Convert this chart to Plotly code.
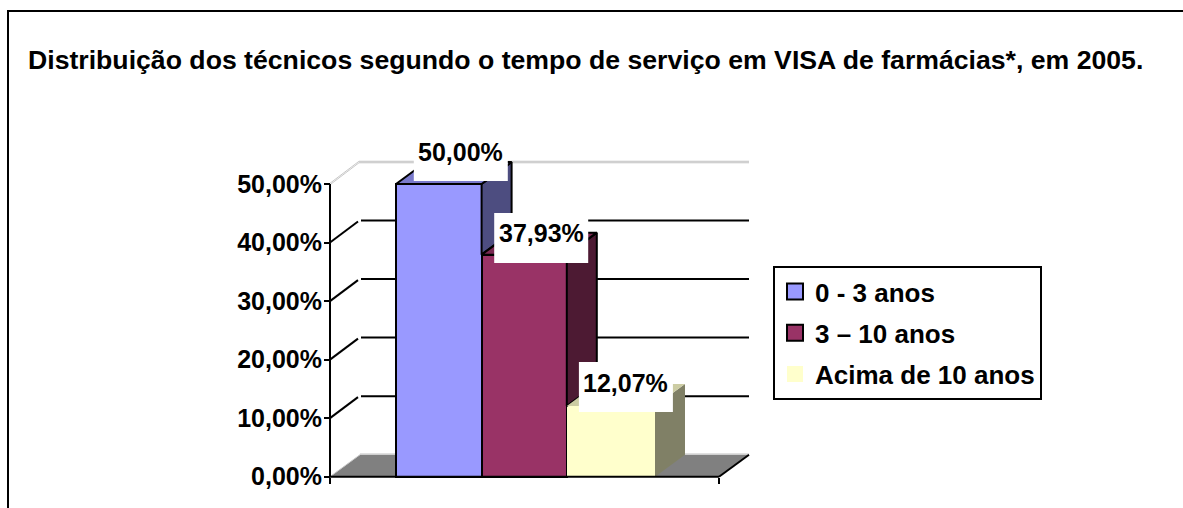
import plotly.graph_objects as go

# ---- data ----
series_names = ["0 - 3 anos", "3 – 10 anos", "Acima de 10 anos"]
series_values = [50.00, 37.93, 12.07]
value_labels = ["50,00%", "37,93%", "12,07%"]
y_ticks = [0, 10, 20, 30, 40, 50]
y_tick_labels = ["0,00%", "10,00%", "20,00%", "30,00%", "40,00%", "50,00%"]
title_text = "<b>Distribuição dos técnicos segundo o tempo de serviço em VISA de farmácias*, em 2005.</b>"

# ---- styles ----
front_colors = ["#9999ff", "#993366", "#ffffcc"]
side_colors = ["#4d4d80", "#4d1a33", "#808066"]
top_colors = ["#7a7acc", "#7a2952", "#cccca3"]
edge_widths = [2, 2, 0]
FONT = "Liberation Sans"

# ---- layout geometry (x axis runs in page units) ----
W, H = 1183, 508
Y0_PX, PX_PER_UNIT = 476.7, 5.854
AX_L, AX_R = 330, 719
bar_edges = [396, 481.6, 566.8, 655]
DX = 30
DY = 22 / PX_PER_UNIT
GRID_START = 361
label_dx = [22, 17, 15]
label_box_dy_px = [28, 16.6, 19]
label_text_dy_px = [32, 21.6, 23]
LABEL_W, LABEL_H = 94, 50


def u(px):
    return px / PX_PER_UNIT


fig = go.Figure()

# front faces
for i, (name, v) in enumerate(zip(series_names, series_values)):
    l, r = bar_edges[i], bar_edges[i + 1]
    fig.add_trace(go.Bar(x=[(l + r) / 2], y=[v], width=[r - l], name=name, showlegend=False,
                         marker=dict(color=front_colors[i],
                                     line=dict(color="black", width=edge_widths[i]))))

# side and top faces, computed from the values
for i, v in enumerate(series_values):
    l, r = bar_edges[i], bar_edges[i + 1]
    nxt = series_values[i + 1] if i + 1 < len(series_values) else 0
    line = dict(color="black", width=edge_widths[i]) if edge_widths[i] else dict(width=0)
    fig.add_trace(go.Scatter(x=[r, r + DX, r + DX, r, r], y=[v, v + DY, nxt + DY, nxt, v],
                             mode="lines", fill="toself", fillcolor=side_colors[i], line=line,
                             hoverinfo="skip", showlegend=False))
    fig.add_trace(go.Scatter(x=[l, l + DX, r + DX, r, l], y=[v, v + DY, v + DY, v, v],
                             mode="lines", fill="toself", fillcolor=top_colors[i], line=line,
                             hoverinfo="skip", showlegend=False))

# legend entries
for i, name in enumerate(series_names):
    fig.add_trace(go.Scatter(x=[None], y=[None], mode="markers", name=name, legendgroup=name,
                             marker=dict(symbol="square", size=16, color=front_colors[i],
                                         line=dict(color="black", width=edge_widths[i]))))

shapes = []


def seg(x0, y0, x1, y1, color="black", width=2, layer="below"):
    shapes.append(dict(type="line", xref="x", yref="y", x0=x0, y0=y0, x1=x1, y1=y1,
                       line=dict(color=color, width=width), layer=layer))


# floor
shapes.append(dict(type="path", xref="x", yref="y", layer="below", fillcolor="#808080",
                   line=dict(width=0),
                   path=f"M{AX_L},0 L{AX_R},0 L{AX_R + DX},{DY} L{AX_L + DX},{DY} Z"))
seg(AX_L + DX, DY + u(0.7), AX_R + DX, DY + u(0.7), "#c0c0c0", 1)

# back wall and side wall lines
top_tick, bottom_tick = max(y_ticks), min(y_ticks)
for t in y_ticks:
    if t == bottom_tick:
        seg(AX_L, t, AX_L + DX, t + DY, "#c8c8c8", 1)
    elif t == top_tick:
        for off in (0.75, -0.75):
            seg(AX_L + DX - 1, t + DY + u(off), AX_R + DX, t + DY + u(off), "#c0c0c0", 1)
            seg(AX_L, t + u(off), AX_L + DX - 1, t + DY + u(off), "#c8c8c8", 1)
    else:
        seg(AX_L, t, AX_L + DX - 2, t + DY - u(1), "black", 2)
        seg(GRID_START, t + DY, AX_R + DX, t + DY, "black", 2)

seg(AX_R, 0, AX_R + DX, DY, "black", 2)
# axis lines
seg(AX_L, 0, AX_L, top_tick, "black", 2, "above")
seg(AX_L, 0, AX_R, 0, "black", 2, "above")

# frame (page coordinates)
shapes.append(dict(type="path", xref="paper", yref="paper", layer="above",
                   line=dict(color="black", width=2),
                   path=f"M{8 / W},0 L{8 / W},{1 - 11 / H} L1,{1 - 11 / H}"))

# value labels: white plate plus text
annotations = []
for i, (v, txt) in enumerate(zip(series_values, value_labels)):
    cx = (bar_edges[i] + bar_edges[i + 1]) / 2 + label_dx[i]
    yc = v + u(label_box_dy_px[i])
    shapes.append(dict(type="rect", xref="x", yref="y", layer="above", fillcolor="white",
                       line=dict(width=0),
                       x0=cx - LABEL_W / 2, x1=cx + LABEL_W / 2,
                       y0=yc - u(LABEL_H / 2), y1=yc + u(LABEL_H / 2)))
    annotations.append(dict(x=cx, y=v + u(label_text_dy_px[i]), xref="x", yref="y",
                            text=f"<b>{txt}</b>", showarrow=False, yanchor="middle",
                            borderpad=0, font=dict(family=FONT, size=25, color="black")))

fig.update_layout(
    width=W, height=H, autosize=False,
    margin=dict(l=0, r=0, t=0, b=0),
    paper_bgcolor="white", plot_bgcolor="white",
    barmode="overlay",
    bargap=0,
    shapes=shapes,
    annotations=annotations,
    title=dict(text=title_text, x=28 / W, xanchor="left", y=1 - 60 / H, yanchor="middle",
               font=dict(family=FONT, size=26.65, color="black")),
    xaxis=dict(range=[0, W], domain=[0, 1], anchor="free", position=(H - Y0_PX) / H,
               tickmode="array", tickvals=[AX_L, AX_R], ticks="outside", ticklen=6, tickwidth=2,
               tickcolor="black", showticklabels=False, showgrid=False, zeroline=False, showline=False),
    yaxis=dict(range=[-(H - Y0_PX) / PX_PER_UNIT, Y0_PX / PX_PER_UNIT], domain=[0, 1],
               anchor="free", position=AX_L / W, tickmode="array", tickvals=y_ticks,
               ticktext=y_tick_labels, ticks="outside", ticklen=6, tickwidth=2,
               tickcolor="black", showgrid=False, zeroline=False, showline=False,
               ticklabelstandoff=-3,
               tickfont=dict(family=FONT, size=25, color="black", weight=700)),
    legend=dict(xref="paper", yref="paper", x=773 / W, y=1 - 266 / H,
                xanchor="left", yanchor="top", bgcolor="white", bordercolor="black", borderwidth=2,
                traceorder="grouped", tracegroupgap=4.5,
                font=dict(family=FONT, size=26, color="black", weight=700)),
    showlegend=True,
)

fig.write_html("out.html", post_script="document.body.style.margin='0';",
               config=dict(displayModeBar=False))
